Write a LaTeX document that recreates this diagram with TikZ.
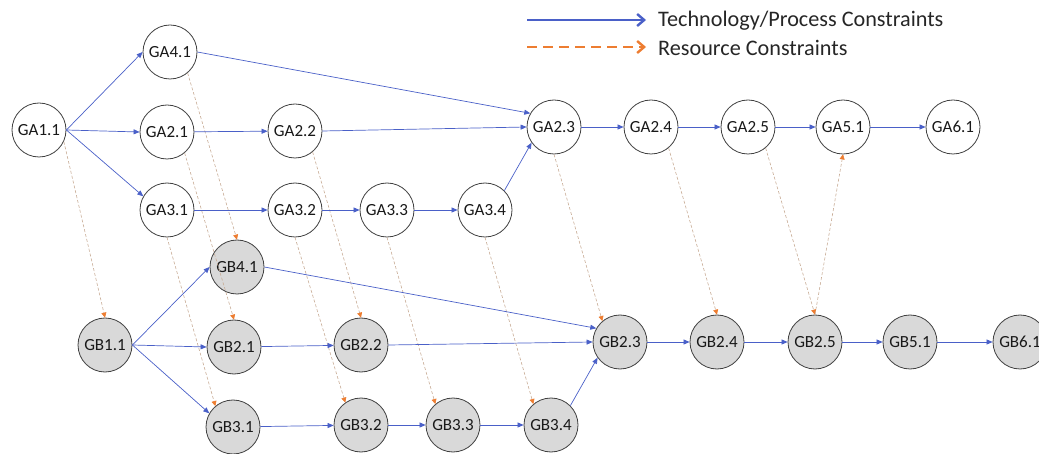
\documentclass[tikz,border=0pt]{standalone}
\usepackage{fontspec}
\setmainfont{Carlito}
\usetikzlibrary{arrows.meta}

\definecolor{techblue}{RGB}{74,96,200}
\definecolor{resorange}{RGB}{237,125,49}
\definecolor{resline}{RGB}{200,172,150}

\begin{document}
\begin{tikzpicture}[x=1pt,y=-1pt]
		\tikzstyle{ga}=[circle,draw=black!75,line width=0.8pt,minimum size=54pt,inner sep=0pt,fill=white,text=black!90,font=\fontsize{17}{20}\selectfont]
		\tikzstyle{gb}=[ga,fill=black!15]
		\tikzstyle{tech}=[techblue,line width=0.7pt,-{Triangle[length=6pt,width=5pt]}]
		\tikzstyle{res}=[resline,line width=0.6pt,dash pattern=on 3pt off 2pt,-{Triangle[length=5pt,width=5pt,color=resorange]}]
		\tikzstyle{legtext}=[anchor=base west,inner sep=0pt,text=black!85,font=\fontsize{22.2}{25}\selectfont]
		\useasboundingbox (0,0) rectangle (1039,454);
		\clip (0,0) rectangle (1039,454);
		% legend
		\coordinate (l1) at (527,20);
		\coordinate (l2) at (527,47);
		\node[legtext] (t1) at (658,27) {Technology/Process Constraints};
		\node[legtext] (t2) at (658,56) {Resource Constraints};
		\draw[techblue,line width=2.4pt,-{Straight Barb[length=7pt,width=12pt]}] (l1) -- ([xshift=-12pt]t1.west |- l1);
		\draw[resorange,line width=2.4pt,dash pattern=on 10pt off 6pt,-{Straight Barb[length=7pt,width=12pt]}] (l2) -- ([xshift=-12pt]t2.west |- l2);
		% group A
		\foreach \n/\t/\x/\y in {ga11/GA1.1/39/130, ga41/GA4.1/170/52, ga21/GA2.1/167/132, ga22/GA2.2/295/131,
			ga31/GA3.1/167/210, ga32/GA3.2/295/210, ga33/GA3.3/387/210, ga34/GA3.4/485/210,
			ga23/GA2.3/554/127, ga24/GA2.4/651/127, ga25/GA2.5/748/127, ga51/GA5.1/843/127, ga61/GA6.1/953/127}
			\node[ga] (\n) at (\x,\y) {\t};
		% group B
		\foreach \n/\t/\x/\y in {gb41/GB4.1/237/267, gb11/GB1.1/105/345, gb21/GB2.1/234/347, gb31/GB3.1/233/427,
			gb22/GB2.2/361/345, gb32/GB3.2/361/425, gb33/GB3.3/453/425, gb34/GB3.4/551/425,
			gb23/GB2.3/620/342, gb24/GB2.4/717/342, gb25/GB2.5/815/342, gb51/GB5.1/910/342, gb61/GB6.1/1020/342}
			\node[gb] (\n) at (\x,\y) {\t};
		% resource constraints
		\draw[res] (ga11.-25) -- (gb11.north);
		\draw[res] (ga41.-50) -- (gb41.north);
		\draw[res] (ga21.-50) -- (gb21.north);
		\draw[res] (ga31.south) -- (gb31.130);
		\draw[res] (ga22.-50) -- (gb22.north);
		\draw[res] (ga32.south) -- (gb32.125);
		\draw[res] (ga33.south) -- (gb33.130);
		\draw[res] (ga34.south) -- (gb34.130);
		\draw[res] (ga23.south) -- (gb23.130);
		\draw[res] (ga24.-50) -- (gb24.north);
		\draw[res] (ga25.-50) -- (gb25.north);
		\draw[res] (gb25.north) -- (ga51.south);
		% technology / process constraints
		\draw[tech] (ga11.east) -- (ga41.west);
		\draw[tech] (ga11.east) -- (ga21.west);
		\draw[tech] (ga11.east) -- (ga31.150);
		\draw[tech] (ga41.east) -- (ga23.150);
		\draw[tech] (ga21) -- (ga22);
		\draw[tech] (ga22.east) -- (ga23.west);
		\draw[tech] (ga31) -- (ga32);
		\draw[tech] (ga32) -- (ga33);
		\draw[tech] (ga33) -- (ga34);
		\draw[tech] (ga34.45) -- (ga23.215);
		\draw[tech] (ga23) -- (ga24);
		\draw[tech] (ga24) -- (ga25);
		\draw[tech] (ga25) -- (ga51);
		\draw[tech] (ga51) -- (ga61);
		\draw[tech] (gb11.east) -- (gb41.west);
		\draw[tech] (gb11.east) -- (gb21.west);
		\draw[tech] (gb11.east) -- (gb31.150);
		\draw[tech] (gb41.east) -- (gb23.150);
		\draw[tech] (gb21) -- (gb22);
		\draw[tech] (gb22.east) -- (gb23.west);
		\draw[tech] (gb31) -- (gb32);
		\draw[tech] (gb32) -- (gb33);
		\draw[tech] (gb33) -- (gb34);
		\draw[tech] (gb34.45) -- (gb23.215);
		\draw[tech] (gb23) -- (gb24);
		\draw[tech] (gb24) -- (gb25);
		\draw[tech] (gb25) -- (gb51);
		\draw[tech] (gb51) -- (gb61);
\end{tikzpicture}
\end{document}
